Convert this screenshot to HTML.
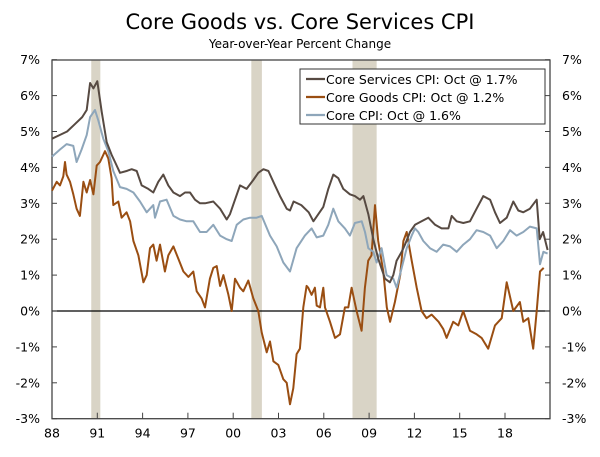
<!DOCTYPE html>
<html><head><meta charset="utf-8"><style>
body{margin:0;background:#fff;width:600px;height:452px;overflow:hidden}
svg text{font-family:"DejaVu Sans","Liberation Sans",sans-serif;fill:#000}
</style></head><body>
<svg id="chart" width="600" height="452" viewBox="0 0 600 452" xmlns="http://www.w3.org/2000/svg">
<text x="300" y="29" text-anchor="middle" font-size="21">Core Goods vs. Core Services CPI</text>
<text x="300" y="48" text-anchor="middle" font-size="12">Year-over-Year Percent Change</text>
<g id="rec"></g>
<g id="axes"></g>
<g id="lines"></g>
<g>
<rect x="300" y="69" width="245" height="55" fill="#fff" stroke="#333" stroke-width="1"/>
<line x1="306" y1="79" x2="325" y2="79" stroke="#574a42" stroke-width="2.2"/>
<text x="326" y="84" font-size="12.5">Core Services CPI: Oct @ 1.7%</text>
<line x1="306" y1="97" x2="325" y2="97" stroke="#9a4e12" stroke-width="2.2"/>
<text x="326" y="102" font-size="12.5">Core Goods CPI: Oct @ 1.2%</text>
<line x1="306" y1="115" x2="325" y2="115" stroke="#8ea6ba" stroke-width="2.2"/>
<text x="326" y="120" font-size="12.5">Core CPI: Oct @ 1.6%</text>
</g>
</svg>
<script>
const yTicks=[7,6,5,4,3,2,1,0,-1,-2,-3];
const xTickYears=[1988,1991,1994,1997,2000,2003,2006,2009,2012,2015,2018];
const xTickLabels=["88","91","94","97","00","03","06","09","12","15","18"];
const recStart=[1990.6,2001.2,2007.9];
const recEnd=[1991.2,2001.9,2009.5];
const servYears=[1988.0,1988.5,1989.0,1989.5,1990.0,1990.3,1990.52,1990.74,1991.0,1991.29,1991.62,1991.95,1992.17,1992.5,1992.94,1993.28,1993.61,1993.94,1994.38,1994.71,1995.04,1995.37,1995.7,1996.04,1996.48,1996.81,1997.14,1997.47,1997.8,1998.13,1998.68,1999.13,1999.57,1999.79,2000.12,2000.45,2000.89,2001.33,2001.66,2002.0,2002.33,2002.77,2003.1,2003.54,2003.76,2004.0,2004.51,2005.0,2005.31,2005.64,2005.97,2006.3,2006.63,2006.96,2007.29,2007.73,2008.06,2008.4,2008.62,2008.95,2009.28,2009.61,2010.05,2010.38,2010.6,2010.82,2011.16,2011.38,2011.71,2012.04,2012.48,2012.92,2013.37,2013.8,2014.25,2014.47,2014.8,2015.24,2015.68,2016.12,2016.56,2017.01,2017.34,2017.67,2018.11,2018.55,2018.88,2019.21,2019.65,2020.1,2020.3,2020.52,2020.82];
const servVals=[4.8,4.9,5.0,5.2,5.4,5.6,6.35,6.2,6.4,5.55,4.7,4.35,4.15,3.85,3.9,3.95,3.9,3.5,3.4,3.3,3.6,3.8,3.5,3.3,3.2,3.3,3.3,3.1,3.0,3.0,3.05,2.85,2.55,2.7,3.1,3.5,3.4,3.65,3.85,3.95,3.9,3.5,3.2,2.85,2.8,3.05,2.95,2.75,2.5,2.7,2.9,3.4,3.8,3.7,3.4,3.25,3.2,3.1,3.2,2.7,2.0,1.45,0.9,0.8,1.0,1.4,1.65,1.85,2.2,2.4,2.5,2.6,2.4,2.3,2.3,2.65,2.5,2.45,2.5,2.85,3.2,3.1,2.75,2.45,2.6,3.05,2.8,2.75,2.85,3.1,2.0,2.2,1.7];
const coreYears=[1988.0,1988.53,1988.97,1989.41,1989.63,1989.96,1990.3,1990.52,1990.85,1991.07,1991.4,1991.73,1992.06,1992.5,1992.94,1993.39,1993.83,1994.27,1994.71,1994.82,1995.15,1995.59,1996.04,1996.48,1996.92,1997.36,1997.8,1998.24,1998.68,1999.13,1999.57,1999.9,2000.23,2000.67,2001.11,2001.55,2001.89,2002.44,2002.88,2003.32,2003.76,2004.2,2004.75,2005.19,2005.53,2005.97,2006.3,2006.63,2006.96,2007.4,2007.73,2008.06,2008.51,2008.73,2008.95,2009.28,2009.5,2009.83,2010.16,2010.6,2010.82,2011.16,2011.49,2011.82,2012.04,2012.26,2012.59,2013.03,2013.47,2013.91,2014.36,2014.8,2015.24,2015.68,2016.12,2016.56,2017.01,2017.45,2017.89,2018.33,2018.77,2019.21,2019.65,2020.1,2020.32,2020.54,2020.82];
const coreVals=[4.3,4.5,4.65,4.6,4.15,4.5,4.9,5.4,5.6,5.3,4.8,4.45,3.9,3.45,3.4,3.3,3.05,2.75,2.95,2.6,3.05,3.1,2.65,2.55,2.5,2.5,2.2,2.2,2.4,2.1,2.0,1.95,2.4,2.55,2.6,2.6,2.65,2.1,1.8,1.35,1.1,1.75,2.1,2.3,2.05,2.1,2.4,2.85,2.5,2.3,2.1,2.45,2.5,2.2,1.75,1.65,1.35,1.75,1.0,0.9,0.65,1.2,1.75,2.1,2.3,2.2,1.95,1.75,1.65,1.85,1.8,1.65,1.85,2.0,2.25,2.2,2.1,1.75,1.95,2.25,2.1,2.2,2.35,2.3,1.3,1.65,1.6];
const goodsYears=[1988.0,1988.31,1988.53,1988.75,1988.86,1988.97,1989.19,1989.41,1989.63,1989.85,1990.08,1990.3,1990.52,1990.74,1990.96,1991.18,1991.51,1991.73,1991.95,1992.06,1992.39,1992.61,1992.94,1993.17,1993.39,1993.72,1994.05,1994.27,1994.49,1994.71,1994.93,1995.15,1995.48,1995.7,1996.04,1996.37,1996.7,1997.03,1997.36,1997.58,1997.91,1998.13,1998.46,1998.68,1998.91,1999.13,1999.35,1999.68,1999.9,2000.12,2000.45,2000.67,2001.0,2001.33,2001.66,2001.89,2002.22,2002.44,2002.66,2002.99,2003.32,2003.54,2003.76,2003.98,2004.2,2004.42,2004.64,2004.86,2004.97,2005.19,2005.41,2005.53,2005.75,2005.97,2006.08,2006.41,2006.74,2007.07,2007.4,2007.62,2007.84,2008.17,2008.5,2008.72,2008.94,2009.16,2009.39,2009.6,2009.94,2010.17,2010.39,2010.71,2011.06,2011.27,2011.49,2011.82,2012.15,2012.48,2012.8,2013.14,2013.6,2013.91,2014.13,2014.57,2014.91,2015.23,2015.68,2016.12,2016.45,2016.89,2017.34,2017.78,2018.11,2018.55,2018.99,2019.21,2019.54,2019.87,2020.1,2020.32,2020.56,2020.67,2020.82];
const goodsVals=[3.35,3.6,3.5,3.75,4.15,3.8,3.6,3.25,2.85,2.65,3.6,3.3,3.65,3.25,4.05,4.15,4.45,4.25,3.7,2.95,3.05,2.6,2.75,2.5,1.95,1.55,0.8,1.0,1.75,1.85,1.4,1.85,1.1,1.55,1.8,1.45,1.1,0.95,1.1,0.55,0.35,0.1,0.9,1.2,1.25,0.7,1.0,0.45,0.0,0.9,0.65,0.55,0.85,0.35,0.0,-0.6,-1.15,-0.85,-1.4,-1.5,-1.9,-2.0,-2.6,-2.15,-1.2,-1.05,0.1,0.7,0.65,0.45,0.65,0.15,0.1,0.65,0.1,-0.3,-0.75,-0.65,0.1,0.1,0.65,0.0,-0.55,0.65,1.4,1.55,2.95,1.95,1.1,0.1,-0.3,0.25,1.0,1.95,2.2,1.4,0.65,0.0,-0.2,-0.1,-0.3,-0.5,-0.75,-0.3,-0.4,0.0,-0.55,-0.65,-0.75,-1.05,-0.4,-0.2,0.8,0.0,0.25,-0.3,-0.2,-1.05,0.0,1.1,1.2];

const X0=52,X1=550,Y7=60,Y0=311,PPU=35.9,YR0=1988,PPY=15.1;
function xs(yr){return X0+(yr-YR0)*PPY;}
function ys(v){return Y0-v*PPU;}
const NS="http://www.w3.org/2000/svg";
function mk(tag,attrs,parent){const e=document.createElementNS(NS,tag);for(const k in attrs)e.setAttribute(k,attrs[k]);parent.appendChild(e);return e;}
const rec=document.getElementById('rec'),axes=document.getElementById('axes'),lines=document.getElementById('lines');
for(let i=0;i<recStart.length;i++){
  const r=mk('rect',{x:xs(recStart[i]),y:Y7,width:xs(recEnd[i])-xs(recStart[i]),height:ys(-3)-Y7,fill:'#d9d4c6'},rec);
  
  
}
mk('rect',{x:X0,y:Y7,width:X1-X0,height:ys(-3)-Y7,fill:'none',stroke:'#444','stroke-width':1.3},axes);
mk('line',{x1:X0,y1:ys(0),x2:X1,y2:ys(0),stroke:'#000','stroke-width':1.2},axes);
yTicks.forEach(v=>{
  const y=ys(v);
  mk('line',{x1:X0,y1:y,x2:X0+5,y2:y,stroke:'#444'},axes);
  mk('line',{x1:X1-5,y1:y,x2:X1,y2:y,stroke:'#444'},axes);
  const t1=mk('text',{x:X0-12,y:y+4.5,'text-anchor':'end','font-size':12.5},axes);t1.textContent=v+'%';
  
  
  const t2=mk('text',{x:X1+12,y:y+4.5,'text-anchor':'start','font-size':12.5},axes);t2.textContent=v+'%';
  
  
});
xTickYears.forEach((yr,i)=>{
  const x=xs(yr);
  mk('line',{x1:x,y1:ys(-3),x2:x,y2:ys(-3)-6,stroke:'#444'},axes);
  const t=mk('text',{x:x,y:ys(-3)+19,'text-anchor':'middle','font-size':12.5},axes);t.textContent=xTickLabels[i];
  
  
});
function drawLine(yrs,vals,color,name){
  const d=yrs.map((yr,i)=>(i?'L':'M')+xs(yr).toFixed(1)+','+ys(vals[i]).toFixed(1)).join(' ');
  const p=mk('path',{d:d,fill:'none',stroke:color,'stroke-width':2,'stroke-linejoin':'round'},lines);
  
  
}
drawLine(goodsYears,goodsVals,'#9a4e12','core-goods-line');
drawLine(coreYears,coreVals,'#8ea6ba','core-cpi-line');
drawLine(servYears,servVals,'#574a42','core-services-line');
</script>
</body></html>
